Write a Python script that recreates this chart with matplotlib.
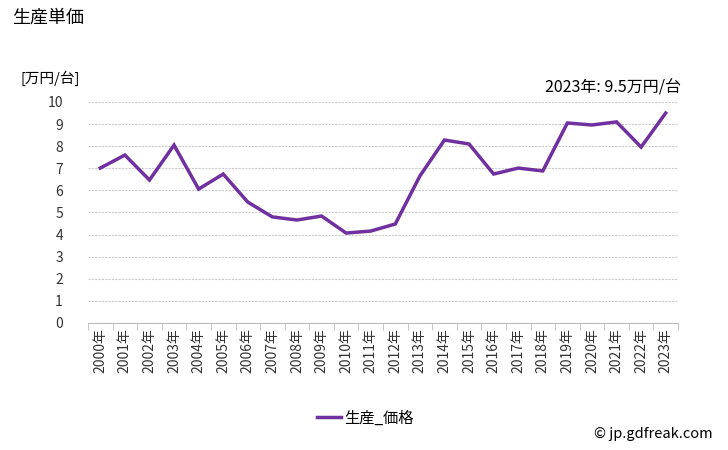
import matplotlib
matplotlib.use("Agg")
import matplotlib.pyplot as plt
from matplotlib.ticker import FixedLocator, MultipleLocator

plt.rcParams['font.family'] = ['Noto Sans CJK JP', 'DejaVu Sans']

years = list(range(2000, 2024))
labels = [f"{y}年" for y in years]
values = [7.01, 7.6, 6.47, 8.05, 6.06, 6.74, 5.47, 4.8, 4.66, 4.84, 4.07, 4.16,
          4.48, 6.65, 8.28, 8.1, 6.74, 7.01, 6.88, 9.05, 8.96, 9.1, 7.96, 9.5]

color = '#7030A0'

fig = plt.figure(figsize=(7.28, 4.5), dpi=100)
ax = fig.add_axes([88/728, 1-323/450, 590/728, 221/450])

x = list(range(len(years)))
ax.plot(x, values, color=color, lw=2.5, label='生産_価格', solid_joinstyle='miter')

ax.set_xlim(-0.5, len(years)-0.5)
ax.set_ylim(0, 10)
ax.yaxis.set_major_locator(MultipleLocator(1))
ax.set_xticks(x)
ax.set_xticklabels(labels, rotation=90, fontsize=10, color='#333333')
ax.xaxis.set_minor_locator(FixedLocator([i-0.5 for i in range(len(years)+1)]))
ax.tick_params(axis='x', which='major', length=0, pad=4)
ax.tick_params(axis='x', which='minor', length=5, color='#bbbbbb')
ax.tick_params(axis='y', length=0, labelsize=10, pad=18, labelcolor='#333333')

for s in ['top', 'right', 'left']:
    ax.spines[s].set_visible(False)
ax.spines['bottom'].set_color('#bbbbbb')
ax.grid(axis='y', color='#cccccc', lw=0.8, linestyle=(0, (2, 1)))
ax.set_axisbelow(True)

fig.text(12/728, 1-18/450, '生産単価', fontsize=13, va='center', ha='left')
fig.text(20/728, 1-78/450, '[万円/台]', fontsize=10.5, va='center', ha='left')
fig.text(681/728, 1-88/450, '2023年: 9.5万円/台', fontsize=11.5, va='center', ha='right')

leg = fig.legend(loc='center', bbox_to_anchor=(365/728, 1-418/450), frameon=False,
                 fontsize=11, handlelength=1.6, handletextpad=0.2)
fig.text(713/728, 1-434/450, '© jp.gdfreak.com', fontsize=10.5, va='center', ha='right')

fig.savefig('out.png', dpi=100)
